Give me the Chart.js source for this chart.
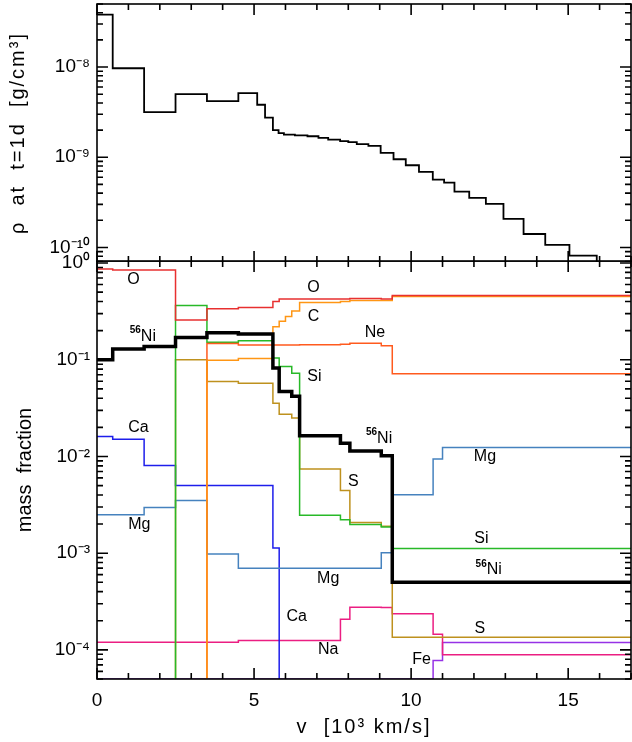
<!DOCTYPE html>
<html>
<head>
<meta charset="utf-8">
<script src="https://cdn.jsdelivr.net/npm/chart.js@4.4.1/dist/chart.umd.min.js"></script>
<style>
  html,body{margin:0;padding:0;background:#fff;}
  #wrap{position:relative;width:632px;height:742px;}
  canvas{position:absolute;left:0;}
  #top{top:0;}
  #bot{top:240px;}
</style>
</head>
<body>
<div id="wrap">
  <canvas id="top" width="632" height="262"></canvas>
  <canvas id="bot" width="632" height="502"></canvas>
</div>
<script>
// ---------------- data ----------------
// density panel: bin edges (10^3 km/s) and density at t=1d (g/cm^3)
const rhoEdges = [0,0.5,1.5,2.5,3.5,4.5,5.1,5.35,5.6,5.78,5.95,6.3,6.7,7.05,7.36,7.74,8.0,8.27,8.64,9.03,9.44,9.83,10.25,10.69,11.05,11.38,11.85,12.38,12.94,13.58,14.27,15.04,15.91,17];
const rhoValues = [3.82e-8,9.7e-9,3.16e-9,5.0e-9,4.19e-9,5.14e-9,3.82e-9,2.75e-9,2.0e-9,1.85e-9,1.78e-9,1.75e-9,1.71e-9,1.64e-9,1.57e-9,1.51e-9,1.47e-9,1.40e-9,1.34e-9,1.12e-9,9.5e-10,8.15e-10,6.88e-10,5.65e-10,5.23e-10,4.16e-10,3.54e-10,3.04e-10,2.07e-10,1.41e-10,1.07e-10,8.1e-11,5e-11];

// abundance panel: shell edges (10^3 km/s)
const shellEdges = [0,0.5,1.5,2.5,3.5,4.5,5.6,5.8,6.0,6.2,6.45,7.75,8.05,9.05,9.4,10.7,11.0,17];
// mass fractions per shell (1e-6 = below plotted range)
const ni56 = [0.1,0.129,0.137,0.17,0.19,0.185,0.082,0.047,0.047,0.042,0.0164,0.0137,0.0114,0.0102,5e-4,5e-4,5e-4];
const oxy  = [0.87,0.845,0.845,0.257,0.337,0.347,0.40,0.424,0.424,0.424,0.424,0.424,0.43,0.424,0.461,0.461,0.461];
const carb = [1e-6,1e-6,1e-6,1e-6,0.099,0.103,0.22,0.25,0.28,0.32,0.39,0.40,0.41,0.41,0.45,0.45,0.45];
const neon = [1e-6,1e-6,1e-6,1e-6,0.147,0.142,0.142,0.142,0.142,0.142,0.1426,0.145,0.148,0.14,0.0715,0.0715,0.0715];
const sili = [1e-6,1e-6,1e-6,0.363,0.152,0.157,0.104,0.0851,0.0851,0.0727,0.00247,0.00221,0.00198,0.00186,0.00112,0.00112,0.00112];
const sulf = [1e-6,1e-6,1e-6,0.1,0.0596,0.0572,0.0356,0.0273,0.0273,0.025,0.0074,0.00444,0.00207,0.0019,1.35e-4,1.35e-4,1.35e-4];
const magn = [0.00249,0.00249,0.00296,0.0035,9.8e-4,7.0e-4,7.0e-4,7.0e-4,7.0e-4,7.0e-4,7.0e-4,7.0e-4,7.0e-4,1.01e-3,0.00401,0.00944,0.01236];
const calc = [0.0161,0.0151,0.00805,0.005,0.005,0.005,0.00113,1e-6,1e-6,1e-6,1e-6,1e-6,1e-6,1e-6,1e-6,1e-6,1e-6];
const sodi = [1.2e-4,1.2e-4,1.2e-4,1.2e-4,1.2e-4,1.25e-4,1.25e-4,1.25e-4,1.25e-4,1.25e-4,1.25e-4,2.08e-4,2.76e-4,2.74e-4,2.36e-4,1.45e-4,8.9e-5];
const iron = [5e-5,5e-5,5e-5,5e-5,5e-5,5e-5,5e-5,5e-5,5e-5,5e-5,5e-5,5e-5,5e-5,5e-5,5e-5,7.75e-5,1.19e-4];

// ticks
const xTickValues = [0,1,2,3,4,5,6,7,8,9,10,11,12,13,14,15,16,17];
const xTickLabels = {0:'0',5:'5',10:'10',15:'15'};
const rhoTickValues = [1e-10,1e-9,1e-8];
const rhoTickLabels = ['10⁻¹⁰','10⁻⁹','10⁻⁸'];
const massTickValues = [1e-4,1e-3,1e-2,1e-1,1];
const massTickLabels = ['10⁻⁴','10⁻³','10⁻²','10⁻¹','10⁰'];

// in-plot species labels (data coordinates)
const speciesLabels = [
  {t:'O', x:1.16, y:0.67},
  {sup:'56', t:'Ni', x:1.46, y:0.174},
  {t:'O', x:6.89, y:0.563},
  {t:'C', x:6.89, y:0.28},
  {t:'Ne', x:8.85, y:0.191},
  {t:'Si', x:6.92, y:0.067},
  {t:'Ca', x:1.32, y:0.0201},
  {sup:'56', t:'Ni', x:8.98, y:0.01546},
  {t:'Mg', x:12.35, y:0.00998},
  {t:'S', x:8.16, y:0.0055},
  {t:'Mg', x:1.35, y:0.00196},
  {t:'Si', x:12.24, y:0.00143},
  {sup:'56', t:'Ni', x:12.47, y:6.72e-4},
  {t:'Mg', x:7.36, y:5.51e-4},
  {t:'Ca', x:6.36, y:2.21e-4},
  {t:'S', x:12.19, y:1.68e-4},
  {t:'Na', x:7.36, y:1.0e-4},
  {t:'Fe', x:10.33, y:7.88e-5}
];

// ---------------- helpers ----------------
const FONT = "'Liberation Sans', Arial, Helvetica, sans-serif";
function steps(edges, vals){
  return edges.map((x,i)=>({x:x, y:vals[Math.min(i, vals.length-1)]}));
}
function isPow10(v){ const e=Math.log10(v); return Math.abs(e-Math.round(e))<1e-6; }
function logTickList(min,max){
  const out=[];
  for(let e=Math.floor(Math.log10(min)); e<=Math.ceil(Math.log10(max)); e++){
    for(let m=1;m<=9;m++){ const v=m*Math.pow(10,e); if(v>=min*0.9999 && v<=max*1.0001) out.push({value:v}); }
  }
  return out;
}
function labelFrom(values, labels){
  return function(v){
    for(let i=0;i<values.length;i++){ if(Math.abs(Math.log10(v)-Math.log10(values[i]))<1e-6) return labels[i]; }
    return '';
  };
}
function fitScale(w, h, spacing){
  return function(s){
    if(w!==null) s.width=w;
    if(h!==null) s.height=h;
    s.paddingTop=0; s.paddingBottom=0; s.paddingLeft=0; s.paddingRight=0;
    if(spacing && !s._lsWrapped){
      const orig = s.drawTitle;
      s.drawTitle = function(){ const c=this.ctx; const p=c.letterSpacing; c.letterSpacing=spacing; orig.call(this); c.letterSpacing=p||'0px'; };
      s._lsWrapped = true;
    }
  };
}

const idlFrame = {
  id:'idlFrame',
  afterDatasetsDraw(chart){
    const {ctx, chartArea:{left,right,top,bottom}} = chart;
    const xs = chart.scales.x, ys = chart.scales.y;
    ctx.save();
    ctx.strokeStyle='#000'; ctx.lineWidth=1.6;
    ctx.strokeRect(left,top,right-left,bottom-top);
    ctx.beginPath();
    xTickValues.forEach(v=>{
      const p = xs.getPixelForValue(v); const L = (v%5===0)?11:6;
      ctx.moveTo(p,bottom); ctx.lineTo(p,bottom-L);
      ctx.moveTo(p,top); ctx.lineTo(p,top+L);
    });
    ys.ticks.forEach(t=>{
      const p = ys.getPixelForValue(t.value); const L = isPow10(t.value)?11:6;
      ctx.moveTo(left,p); ctx.lineTo(left+L,p);
      ctx.moveTo(right,p); ctx.lineTo(right-L,p);
    });
    ctx.stroke();
    ctx.restore();
  }
};

const speciesText = {
  id:'speciesText',
  afterDatasetsDraw(chart){
    const {ctx} = chart; const xs=chart.scales.x, ys=chart.scales.y;
    ctx.save(); ctx.fillStyle='#000'; ctx.textBaseline='middle';
    speciesLabels.forEach(l=>{
      const px = xs.getPixelForValue(l.x), py = ys.getPixelForValue(l.y);
      ctx.font = '16px '+FONT;
      const wm = ctx.measureText(l.t).width;
      let ws = 0;
      if(l.sup){ ctx.font='bold 10px '+FONT; ws = ctx.measureText(l.sup).width; }
      let x0 = px - (wm+ws)/2;
      if(l.sup){ ctx.font='bold 10px '+FONT; ctx.textAlign='left'; ctx.fillText(l.sup, x0, py-6); }
      ctx.font='16px '+FONT; ctx.textAlign='left'; ctx.fillText(l.t, x0+ws, py);
    });
    ctx.restore();
  }
};

Chart.defaults.font.family = FONT;
Chart.defaults.color = '#000';

function line(label, edges, vals, color, width){
  return {label, data:steps(edges, vals), borderColor:color, backgroundColor:color,
          borderWidth:width, stepped:true, pointRadius:0, tension:0, fill:false};
}

// ---------------- top chart: density ----------------
new Chart(document.getElementById('top'), {
  type:'line',
  data:{datasets:[ line('density', rhoEdges, rhoValues, '#000', 1.8) ]},
  options:{
    responsive:false, animation:false, devicePixelRatio:1,
    layout:{padding:{top:4,right:1,left:0,bottom:0}},
    plugins:{legend:{display:false}, tooltip:{enabled:false}},
    scales:{
      x:{type:'linear', min:0, max:17, display:true,
         ticks:{display:false}, grid:{display:false, drawTicks:false}, border:{display:false},
         afterFit:fitScale(null,0,null)},
      y:{type:'logarithmic', min:6.9e-11, max:5e-8,
         afterBuildTicks(s){ s.ticks = logTickList(6.9e-11,5e-8); },
         ticks:{callback:labelFrom(rhoTickValues, rhoTickLabels), autoSkip:false, padding:7,
                font:{size:19}},
         grid:{display:false, drawTicks:false}, border:{display:false},
         title:{display:true, text:'ρ  at  t=1d  [g/cm³]', font:{size:20}, padding:{top:6,bottom:0}},
         afterFit:fitScale(97,null,'2px')}
    }
  },
  plugins:[idlFrame]
});

// ---------------- bottom chart: mass fractions ----------------
new Chart(document.getElementById('bot'), {
  type:'line',
  data:{datasets:[
    line('56Ni', shellEdges, ni56, '#000', 3.5),
    line('O',  shellEdges, oxy,  'rgb(232,48,48)', 1.5),
    line('C',  shellEdges, carb, 'rgb(255,150,20)', 1.5),
    line('Ne', shellEdges, neon, 'rgb(255,90,30)', 1.5),
    line('Si', shellEdges, sili, 'rgb(40,185,40)', 1.5),
    line('S',  shellEdges, sulf, 'rgb(190,145,30)', 1.5),
    line('Mg', shellEdges, magn, 'rgb(70,130,190)', 1.5),
    line('Ca', shellEdges, calc, 'rgb(30,30,235)', 1.5),
    line('Na', shellEdges, sodi, 'rgb(235,30,130)', 1.5),
    line('Fe', shellEdges, iron, 'rgb(150,50,230)', 1.5)
  ]},
  options:{
    responsive:false, animation:false, devicePixelRatio:1,
    layout:{padding:{top:21,right:1,left:0,bottom:0}},
    plugins:{legend:{display:false}, tooltip:{enabled:false}},
    scales:{
      x:{type:'linear', min:0, max:17,
         afterBuildTicks(s){ s.ticks = xTickValues.map(v=>({value:v})); },
         ticks:{callback:(v)=>xTickLabels[v]||'', autoSkip:false, maxRotation:0, padding:10, font:{size:19}},
         grid:{display:false, drawTicks:false}, border:{display:false},
         title:{display:true, text:'v  [10³ km/s]', font:{size:20}, padding:{top:0,bottom:3}},
         afterFit:fitScale(null,63,'2px')},
      y:{type:'logarithmic', min:5e-5, max:1.05,
         afterBuildTicks(s){ s.ticks = logTickList(5e-5,1.05); },
         ticks:{callback:labelFrom(massTickValues, massTickLabels), autoSkip:false, padding:7,
                font:{size:19}},
         grid:{display:false, drawTicks:false}, border:{display:false},
         title:{display:true, text:'mass  fraction', font:{size:20}, padding:{top:13,bottom:0}},
         afterFit:fitScale(97,null,null)}
    }
  },
  plugins:[idlFrame, speciesText]
});
</script>
</body>
</html>
